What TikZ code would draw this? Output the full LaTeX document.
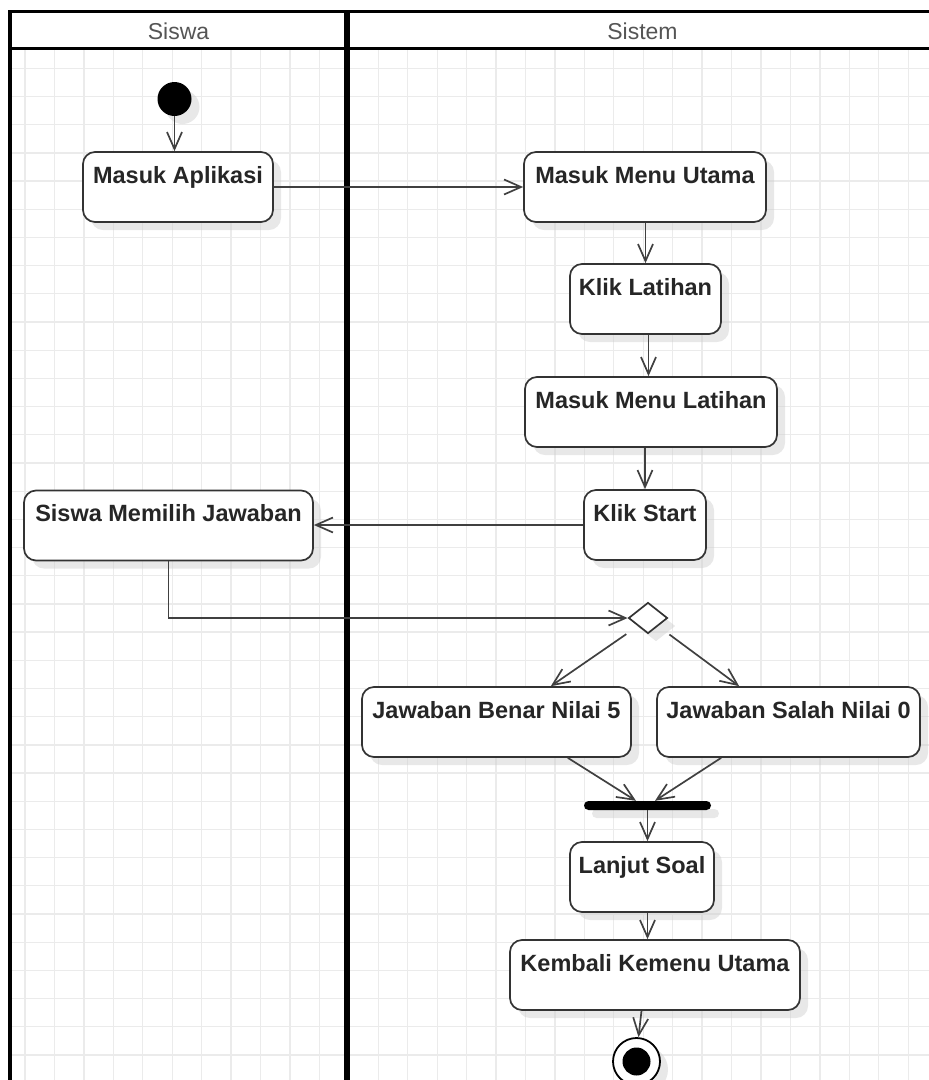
\documentclass[tikz,border=0pt]{standalone}
\usepackage{fontspec}
\setmainfont{Liberation Sans}
\usetikzlibrary{shapes.geometric, arrows.meta, shadows, calc}

\definecolor{gridc}{HTML}{EBEBEB}
\definecolor{linec}{HTML}{333333}
\definecolor{flowc}{HTML}{404040}
\definecolor{textc}{HTML}{262626}
\definecolor{headc}{HTML}{555555}

\begin{document}
\begin{tikzpicture}[x=1pt, y=-1pt,
  sh/.style={drop shadow={shadow xshift=8pt, shadow yshift=-8pt, fill=black!18, opacity=0.5}},
  act/.style={draw=linec, line width=1.7pt, rounded corners=12pt, fill=white, sh,
    inner xsep=0pt, inner ysep=0pt, text height=31pt, text depth=39pt,
    minimum width=#1, font=\fontsize{23.5}{28}\selectfont\bfseries, text=textc},
  flow/.style={draw=flowc, line width=1.7pt, -{Straight Barb[length=17pt, width=15pt]}},
  hdr/.style={anchor=base, font=\fontsize{23}{28}\selectfont, text=headc, inner sep=0pt},
  lane/.style={draw=black, line width=3.5pt},
  gridline/.style={draw=gridc, line width=1.3pt}
]
\useasboundingbox (0,0) rectangle (929,1080);
\clip (0,0) rectangle (929,1080);

% background grid inside the lanes
\foreach \k in {0,...,30}
  \draw[gridline] ({25+29.44*\k},50) -- ({25+29.44*\k},1080);
\foreach \k in {0,...,35}
  \draw[gridline] (12,{68.3+28.19*\k}) -- (929,{68.3+28.19*\k});

% swimlanes
\draw[lane] (10,11.7) -- (929,11.7);
\draw[lane] (10,48.3) -- (929,48.3);
\draw[lane] (10,10) -- (10,1080);
\draw[draw=black, line width=6.5pt] (347,10) -- (347,1080);
\node[hdr] (siswa) at (178.5,39.3) {Siswa};
\node[hdr] (sistem) at (642.5,39.3) {Sistem};

% activities
\node[circle, fill=black, minimum size=34pt, inner sep=0pt, sh] (start) at (174.5,99) {};
\node[act=190pt] (ma) at (178,187) {Masuk Aplikasi};
\node[act=242pt] (mmu) at (645,187) {Masuk Menu Utama};
\node[act=151pt] (kl) at (645.5,299) {Klik Latihan};
\node[act=252pt] (mml) at (651,412) {Masuk Menu Latihan};
\node[act=122pt] (ks) at (645,525) {Klik Start};
\node[act=289pt] (smj) at (168.5,525.5) {Siswa Memilih Jawaban};
\node[diamond, draw=linec, line width=1.7pt, fill=white, minimum width=39pt,
  minimum height=31pt, inner sep=0pt, sh] (dia) at (648,618) {};
\node[act=269pt] (benar) at (496.5,722) {Jawaban Benar Nilai 5};
\node[act=263pt] (salah) at (788.5,722) {Jawaban Salah Nilai 0};
\node[fill=black, rounded corners=4.5pt, minimum width=127pt, minimum height=9pt,
  inner sep=0pt, sh] (bar) at (647.5,805.5) {};
\node[act=144pt] (lj) at (642,877) {Lanjut Soal};
\node[act=290pt] (kb) at (655,975) {Kembali Kemenu Utama};
\node[circle, draw=black, line width=1.8pt, fill=white, minimum size=47pt,
  inner sep=0pt, sh] (endo) at (636.5,1061.5) {};
\node[circle, fill=black, minimum size=28pt, inner sep=0pt] (endi) at (endo.center) {};

% control flow
\draw[flow] (start.south) -- (start.south |- ma.north);
\draw[flow] (ma.east) -- (mmu.west);
\draw[flow] (mmu.south -| kl.north) -- (kl.north);
\draw[flow] ($(kl.south)+(3,0)$) -- ($(kl.south |- mml.north)+(3,0)$);
\draw[flow] (mml.south -| ks.north) -- (ks.north);
\draw[flow] (ks.west) -- (ks.west -| smj.east);
\draw[flow] (smj.south) |- (dia.west);
\draw[flow, shorten <=14pt] (dia.south west) -- ($(benar.north east)+(-81,0)$);
\draw[flow, shorten <=14pt] (dia.south east) -- ($(salah.north west)+(83,0)$);
\draw[flow] ($(benar.south east)+(-64,0)$) -- ($(bar.north)+(-11.5,0)$);
\draw[flow] ($(salah.south west)+(65,0)$) -- ($(bar.north)+(7.5,0)$);
\draw[flow] (bar.south) -- (bar.south |- lj.north);
\draw[flow] (lj.south -| bar.south) -- (bar.south |- kb.north);
\draw[flow] ($(kb.south -| endo.north)+(5,0)$) -- ($(endo.north)+(2,0)$);
\end{tikzpicture}
\end{document}
